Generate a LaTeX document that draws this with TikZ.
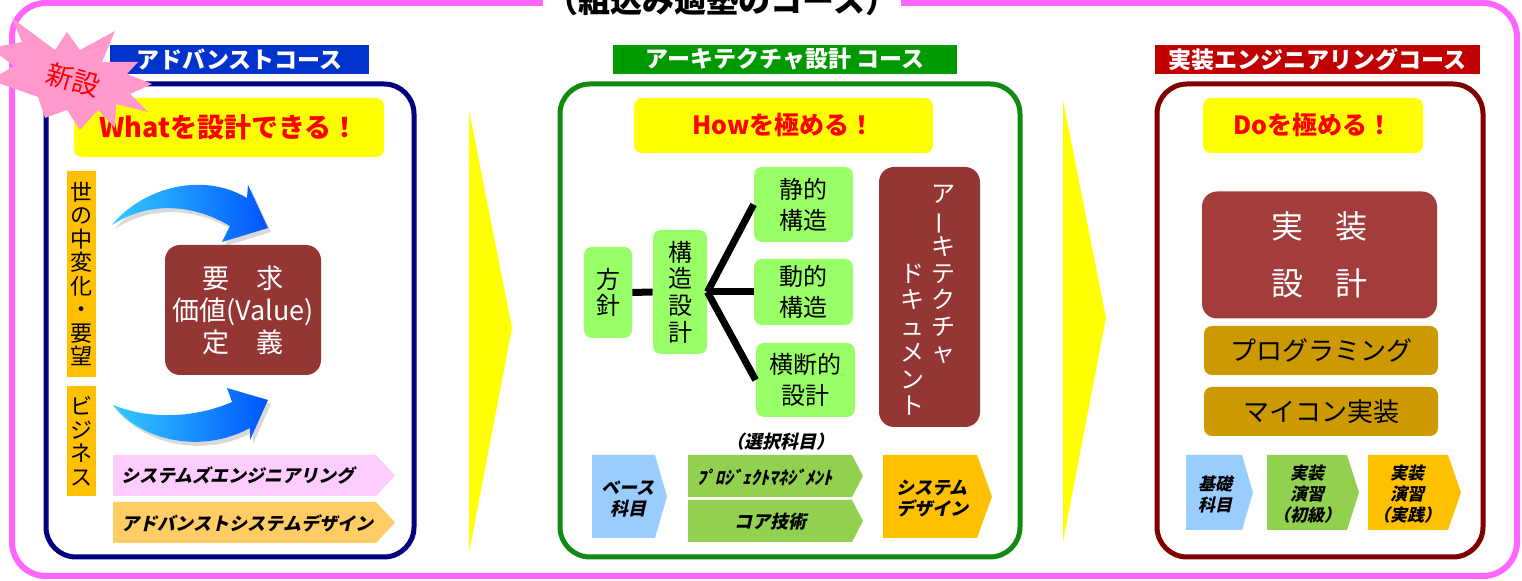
\documentclass[tikz,border=0pt]{standalone}
\usepackage{fontspec}
\usepackage{graphicx}
\setmainfont{Noto Sans CJK JP}
\newfontfamily\jpbi[FakeSlant=0.22]{Noto Sans CJK JP}
\definecolor{pinkL}{HTML}{FF66FF}
\definecolor{hblue}{HTML}{0033CC}
\definecolor{pnavy}{HTML}{000080}
\definecolor{hgreen}{HTML}{009900}
\definecolor{pgreen}{HTML}{108A10}
\definecolor{hred}{HTML}{C00000}
\definecolor{pred}{HTML}{800000}
\definecolor{yel}{HTML}{FFFF00}
\definecolor{rtxt}{HTML}{FF0000}
\definecolor{olab}{HTML}{FFC000}
\definecolor{brn}{HTML}{943634}
\definecolor{brn2}{HTML}{A33D3B}
\definecolor{lgreen}{HTML}{99FF66}
\definecolor{cpink}{HTML}{FFCCFF}
\definecolor{corange}{HTML}{FFCC66}
\definecolor{cblue}{HTML}{99CCFF}
\definecolor{cgreen}{HTML}{92D050}
\definecolor{cgold}{HTML}{FFC000}
\definecolor{gold}{HTML}{CC9900}
\definecolor{starpink}{HTML}{FF99CC}
\definecolor{acyan}{HTML}{33CCFF}
\definecolor{ablue}{HTML}{0055FF}
\tikzset{
  hdr/.style={text=white, font=\fontsize{11.5}{13}\selectfont\bfseries, inner sep=0pt},
  panel/.style={line width=2.5pt, rounded corners=15pt},
  ybox/.style={fill=yel, rounded corners=4pt, text=rtxt, font=\fontsize{13.5}{15}\selectfont\bfseries, inner sep=0pt},
  vlab/.style={fill=olab, align=center, inner sep=0pt, minimum width=14.5pt, font=\fontsize{11}{11.75}\selectfont},
  brbox/.style={fill=brn, rounded corners=7.5pt, text=white, align=center, inner sep=0pt},
  lgbox/.style={fill=lgreen, rounded corners=4pt, align=center, inner sep=0pt, font=\fontsize{12}{15.5}\selectfont},
  goldbox/.style={fill=gold, rounded corners=4pt, inner sep=0pt, minimum width=117pt, minimum height=24.5pt, font=\fontsize{13}{15}\selectfont},
  ctext/.style={align=center, inner sep=0pt, font={\jpbi\fontsize{9}{10.5}\selectfont\bfseries}},
  doctxt/.style={align=center, inner sep=0pt, text=white, font=\fontsize{12}{13.25}\selectfont},
  conn/.style={line width=3.5pt, black}
}
\begin{document}
\begin{tikzpicture}[x=0.5pt,y=-0.5pt]
\useasboundingbox (0,0) rectangle (1522,581);
\fill[white] (0,0) rectangle (1522,581);
% outer frame and title
\draw[line width=3pt, draw=pinkL, rounded corners=17pt] (12,3) rectangle (1517,576);
\node[fill=white, inner xsep=2pt, inner ysep=0pt, font=\fontsize{16}{18}\selectfont\bfseries] (title) at (722,0) {（組込み適塾のコース）};
% big yellow arrows
\fill[yel] (469,110) -- (512,328) -- (469,553) -- cycle;
\fill[yel] (1063,100) -- (1106,318) -- (1063,542) -- cycle;

% ===== left panel =====
\node[hdr, fill=hblue, minimum width=129.5pt, minimum height=14.5pt] (h1) at (239.5,59.5) {アドバンストコース};
\draw[panel, draw=pnavy] (46,84) rectangle (414,557);
\node[ybox, minimum width=155pt, minimum height=29.5pt] (y1) at (229,127.5) {Whatを設計できる！};
% starburst
\fill[starpink] (12,18) -- (55,50) -- (67,32) -- (80,50) -- (115,31) -- (102,62) -- (138,62) -- (127,74) -- (152,84) -- (130,94) -- (148,112) -- (116,104) -- (115,128) -- (98,110) -- (80,130) -- (67,110) -- (45,118) -- (38,97) -- (-10,80) -- (14,66) -- (-10,48) -- (22,42) -- cycle;
\node[rotate=-16, text=rtxt, inner sep=0pt, font=\fontsize{13.5}{15}\selectfont] (xin) at (73,80) {新設};
% vertical labels
\node[vlab, minimum height=103pt] (v1) at (81.5,274) {世\\の\\中\\変\\化\\・\\要\\望};
\node[vlab, minimum height=55pt] (v2) at (81.5,441) {ビ\\ジ\\ネ\\ス};
% curved arrows
\fill[gray!30, shift={(3,4)}] (112,225) .. controls (140,190) and (200,170) .. (247,198) -- (248,185) -- (268,228) -- (222,242) -- (230,226) .. controls (195,205) and (150,200) .. (112,225) -- cycle;
\shade[left color=acyan, right color=ablue] (112,225) .. controls (140,190) and (200,170) .. (247,198) -- (248,185) -- (268,228) -- (222,242) -- (230,226) .. controls (195,205) and (150,200) .. (112,225) -- cycle;
\fill[gray!30, shift={(3,4)}] (113,405) .. controls (140,440) and (200,455) .. (250,428) -- (250,440) -- (268,400) -- (227,388) -- (232,402) .. controls (195,418) and (150,420) .. (113,405) -- cycle;
\shade[left color=acyan, right color=ablue] (113,405) .. controls (140,440) and (200,455) .. (250,428) -- (250,440) -- (268,400) -- (227,388) -- (232,402) .. controls (195,418) and (150,420) .. (113,405) -- cycle;
% requirement box
\node[brbox, minimum width=78pt, minimum height=65pt, font=\fontsize{13.5}{16}\selectfont] (req) at (243,310) {要　求\\価値(Value)\\定　義};
% chevrons
\fill[cpink] (113,455) -- (376,455) -- (395,475.5) -- (376,496) -- (113,496) -- cycle;
\node[ctext] (se) at (238,476) {システムズエンジニアリング};
\fill[corange] (113,502) -- (376,502) -- (395,522.5) -- (376,543) -- (113,543) -- cycle;
\node[ctext] (asd) at (247,523) {アドバンストシステムデザイン};

% ===== middle panel =====
\node[hdr, fill=hgreen, minimum width=172pt, minimum height=14.5pt] (h2) at (785,59.5) {アーキテクチャ設計 コース};
\draw[panel, draw=pgreen] (560,84) rectangle (1020,557);
\node[ybox, minimum width=149.5pt, minimum height=27.5pt, font=\fontsize{12.5}{14}\selectfont\bfseries] (y2) at (783.5,125.5) {Howを極める！};
\node[lgbox, minimum width=24pt, minimum height=45.5pt, font=\fontsize{12}{13}\selectfont] (hs) at (608,292.5) {方\\針};
\node[lgbox, minimum width=27pt, minimum height=62pt, font=\fontsize{12}{13.3}\selectfont] (kz) at (680,292) {構\\造\\設\\計};
\node[lgbox, minimum width=49.5pt, minimum height=37.5pt] (st) at (803.5,204.5) {静的\\構造};
\node[lgbox, minimum width=49.5pt, minimum height=33pt] (dy) at (803.5,292) {動的\\構造};
\node[lgbox, minimum width=49.5pt, minimum height=37pt] (ob) at (805.5,380) {横断的\\設計};
\draw[conn] (hs.east) -- (kz.west);
\draw[conn] (kz.east) -- (st.west);
\draw[conn] (kz.east) -- (dy.west);
\draw[conn] (kz.east) -- (ob.west);
% document box
\node[brbox, minimum width=50.5pt, minimum height=130pt] (doc) at (929.5,297) {};
\node[doctxt] (docR) at (943.5,274.5) {ア\\\rotatebox[origin=c]{90}{ー}\\キ\\テ\\ク\\チ\\ャ};
\node[doctxt] (docL) at (912,339.5) {ド\\キ\\ュ\\メ\\ン\\ト};
% elective
\node[ctext] (sel) at (780,442) {（選択科目）};
\fill[cblue] (592,455) -- (655,455) -- (667,496.5) -- (655,538) -- (592,538) -- cycle;
\node[ctext] (base) at (628,499) {ベース\\科目};
\fill[cgreen] (688,455) -- (852,455) -- (863,476) -- (852,497) -- (688,497) -- cycle;
\node[ctext] (pm) at (765,477) {ﾌﾟﾛｼﾞｪｸﾄﾏﾈｼﾞﾒﾝﾄ};
\fill[cgreen] (688,500) -- (852,500) -- (863,521) -- (852,542) -- (688,542) -- cycle;
\node[ctext] (core) at (770,522) {コア技術};
\fill[cgold] (883,455) -- (977,455) -- (992,496.5) -- (977,538) -- (883,538) -- cycle;
\node[ctext] (sd) at (932,499) {システム\\デザイン};

% ===== right panel =====
\node[hdr, fill=hred, minimum width=162.5pt, minimum height=14.5pt] (h3) at (1317.5,59.5) {実装エンジニアリングコース};
\draw[panel, draw=pred] (1157,84) rectangle (1483,557);
\node[ybox, minimum width=110pt, minimum height=27.5pt, font=\fontsize{12.5}{14}\selectfont\bfseries] (y3) at (1313,125.5) {Doを極める！};
\node[brbox, fill=brn2, minimum width=117.5pt, minimum height=63.5pt, font=\fontsize{16}{28.5}\selectfont] (impl) at (1319.5,255) {実　装\\設　計};
\node[goldbox] (prog) at (1321,350.5) {プログラミング};
\node[goldbox] (mcu) at (1321,411.5) {マイコン実装};
\fill[cblue] (1186,455) -- (1242,455) -- (1253,492.5) -- (1242,530) -- (1186,530) -- cycle;
\node[ctext, font={\jpbi\fontsize{8.5}{10.5}\selectfont\bfseries}] (kiso) at (1215,495) {基礎\\科目};
\fill[cgreen] (1267,455) -- (1347,455) -- (1359,492.5) -- (1347,530) -- (1267,530) -- cycle;
\node[ctext, font={\jpbi\fontsize{8.5}{10.5}\selectfont\bfseries}] (ens1) at (1307,494) {実装\\演習\\（初級）};
\fill[cgold] (1368,455) -- (1448,455) -- (1461,492.5) -- (1448,530) -- (1368,530) -- cycle;
\node[ctext, font={\jpbi\fontsize{8.5}{10.5}\selectfont\bfseries}] (ens2) at (1407,494) {実装\\演習\\（実践）};
\end{tikzpicture}
\end{document}
